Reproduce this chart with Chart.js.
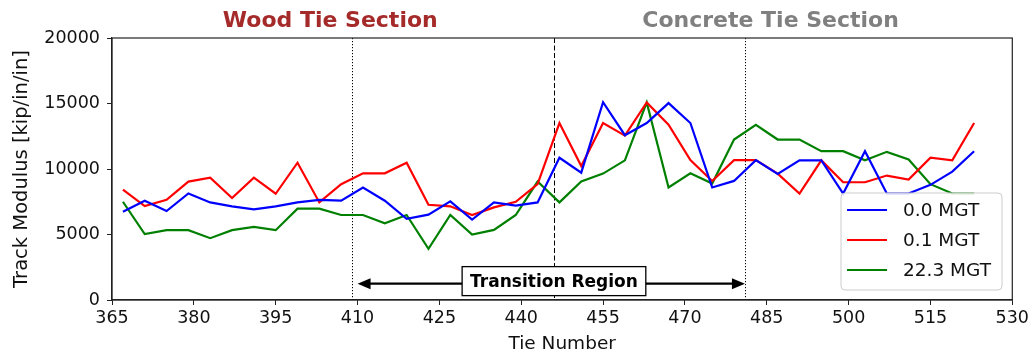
<!DOCTYPE html>
<html><head><meta charset="utf-8">
<script src="https://cdn.jsdelivr.net/npm/chart.js@4.4.0/dist/chart.umd.min.js"></script>
<style>html,body{margin:0;padding:0;background:#fff}#wrap{width:1032px;height:358px;position:relative}</style>
</head><body><div id="wrap"><canvas id="c" width="1032" height="358"></canvas></div>
<script>
const ties = [367,371,375,379,383,387,391,395,399,403,407,411,415,419,423,427,431,435,439,443,447,451,455,459,463,467,471,475,479,483,487,491,495,499,503,507,511,515,519,523];
const mgt00 = [6740,7580,6790,8130,7450,7150,6920,7150,7450,7650,7580,8590,7580,6190,6520,7530,6140,7450,7200,7450,10860,9720,15100,12580,13510,15030,13510,8590,9090,10680,9620,10660,10660,8130,11360,8130,8130,8790,9800,11360];
const mgt01 = [8430,7170,7650,9040,9340,7780,9340,8110,10480,7450,8840,9670,9670,10480,7270,7150,6490,7070,7500,8840,13510,10230,13510,12550,15080,13380,10680,9090,10680,10680,9650,8130,10660,8990,8990,9500,9190,10860,10660,13510];
const mgt223 = [7500,5030,5330,5330,4720,5330,5580,5330,6970,6970,6490,6490,5860,6490,3910,6490,5000,5350,6490,9040,7450,9040,9650,10660,15080,8590,9670,8890,12250,13380,12250,12250,11360,11360,10660,11310,10730,8840,8130,8130];
const seriesLabels = ['0.0 MGT','0.1 MGT','22.3 MGT'];
const seriesColors = ['#0000ff','#ff0000','#008000'];
const xTicks = [365,380,395,410,425,440,455,470,485,500,515,530];
const yTicks = [0,5000,10000,15000,20000];
const boundaryTies = [409,446,481];
const sectionLabels = ['Wood Tie Section','Concrete Tie Section'];
const sectionCenters = [405,485.7];
const sectionColors = ['#a52a2a','#808080'];
const transitionLabel = 'Transition Region';
const transitionSpan = [410,481];
const transitionLevel = 1250;

const FONT = "'DejaVu Sans', sans-serif";
const toXY = vals => ties.map((t,i)=>({x:t,y:vals[i]}));

const annot = {
  id:'annot',
  beforeDatasetsDraw(chart){
    const {ctx, chartArea:a, scales:{x}} = chart;
    ctx.save();
    ctx.strokeStyle='#000'; ctx.lineWidth=1;
    boundaryTies.forEach((t,i)=>{
      const px = Math.round(x.getPixelForValue(t))+0.5;
      ctx.setLineDash(i===1?[5,2.5]:[1.2,1.8]);
      ctx.beginPath(); ctx.moveTo(px,a.top); ctx.lineTo(px,a.bottom); ctx.stroke();
    });
    ctx.restore();
  },
  afterDatasetsDraw(chart){
    const {ctx, chartArea:a, scales:{x,y}} = chart;
    ctx.save();
    ctx.strokeStyle='#222'; ctx.lineWidth=1.2;
    ctx.strokeRect(a.left, a.top, a.right-a.left, a.bottom-a.top);
    ctx.font = "bold 22px "+FONT; ctx.textAlign='center'; ctx.textBaseline='middle';
    sectionLabels.forEach((s,i)=>{ ctx.fillStyle=sectionColors[i]; ctx.fillText(s, x.getPixelForValue(sectionCenters[i]), 21); });
    const x1 = x.getPixelForValue(transitionSpan[0]), x2 = x.getPixelForValue(transitionSpan[1]);
    const ay = y.getPixelForValue(transitionLevel);
    const hl=13, hw=5.5;
    ctx.strokeStyle='#000'; ctx.fillStyle='#000'; ctx.lineWidth=2.2;
    ctx.beginPath(); ctx.moveTo(x1+hl-1,ay); ctx.lineTo(x2-hl+1,ay); ctx.stroke();
    ctx.beginPath(); ctx.moveTo(x1,ay); ctx.lineTo(x1+hl,ay-hw); ctx.lineTo(x1+hl,ay+hw); ctx.closePath(); ctx.fill();
    ctx.beginPath(); ctx.moveTo(x2,ay); ctx.lineTo(x2-hl,ay-hw); ctx.lineTo(x2-hl,ay+hw); ctx.closePath(); ctx.fill();
    ctx.font = "bold 17px "+FONT;
    const tw = ctx.measureText(transitionLabel).width;
    const cx = x.getPixelForValue(boundaryTies[1]), cy = ay-2.5;
    const bw = tw+16, bh = 29;
    ctx.fillStyle='#fff'; ctx.fillRect(cx-bw/2, cy-bh/2, bw, bh);
    ctx.lineWidth=1.3; ctx.strokeStyle='#000'; ctx.strokeRect(cx-bw/2, cy-bh/2, bw, bh);
    ctx.fillStyle='#000'; ctx.textAlign='center'; ctx.textBaseline='middle';
    ctx.fillText(transitionLabel, cx, cy+1);
    const lx=841, ly=193, lw=161, lh=97, r=4;
    ctx.globalAlpha=0.8; ctx.fillStyle='#fff';
    ctx.beginPath(); ctx.roundRect(lx,ly,lw,lh,r); ctx.fill();
    ctx.globalAlpha=1; ctx.strokeStyle='#cccccc'; ctx.lineWidth=1; ctx.stroke();
    ctx.font = "18.5px "+FONT; ctx.textAlign='left'; ctx.textBaseline='middle';
    chart.data.datasets.forEach((d,i)=>{
      const yy = ly+17+i*30;
      ctx.strokeStyle=d.borderColor; ctx.lineWidth=2.2;
      ctx.beginPath(); ctx.moveTo(lx+6,yy); ctx.lineTo(lx+46,yy); ctx.stroke();
      ctx.fillStyle='#111'; ctx.fillText(d.label, lx+62, yy+1);
    });
    ctx.restore();
  }
};

new Chart(document.getElementById('c'), {
  type:'line',
  data:{datasets:[
    {label:seriesLabels[0], data:toXY(mgt00), borderColor:seriesColors[0]},
    {label:seriesLabels[1], data:toXY(mgt01), borderColor:seriesColors[1]},
    {label:seriesLabels[2], data:toXY(mgt223), borderColor:seriesColors[2]}
  ].map(d=>Object.assign(d,{borderWidth:2.2,pointRadius:0,tension:0,fill:false}))},
  options:{
    responsive:false, animation:false, devicePixelRatio:1,
    layout:{padding:{top:38,right:19.5,bottom:0,left:0}},
    plugins:{legend:{display:false}, tooltip:{enabled:false}},
    scales:{
      x:{type:'linear', min:365, max:530,
        afterBuildTicks:s=>{s.ticks = xTicks.map(v=>({value:v}));},
        afterFit:s=>{s.height=58;},
        ticks:{color:'#111', font:{family:FONT,size:17.5}, padding:3, maxRotation:0, autoSkip:false, callback:v=>String(v)},
        grid:{drawOnChartArea:false, tickLength:5, color:'#222'},
        border:{color:'#222', width:1.2},
        title:{display:true, text:'Tie Number', color:'#111', font:{family:FONT,size:18.5}, padding:{top:0,bottom:3}}
      },
      y:{min:0, max:20000,
        afterBuildTicks:s=>{s.ticks = yTicks.map(v=>({value:v}));},
        afterFit:s=>{s.width=112;},
        ticks:{color:'#111', font:{family:FONT,size:17.5}, padding:7, callback:v=>String(v)},
        grid:{drawOnChartArea:false, tickLength:5, color:'#222'},
        border:{color:'#222', width:1.2},
        title:{display:true, text:'Track Modulus [kip/in/in]', color:'#111', font:{family:FONT,size:19.5}, padding:{top:10,bottom:0}}
      }
    }
  },
  plugins:[annot]
});
</script></body></html>
